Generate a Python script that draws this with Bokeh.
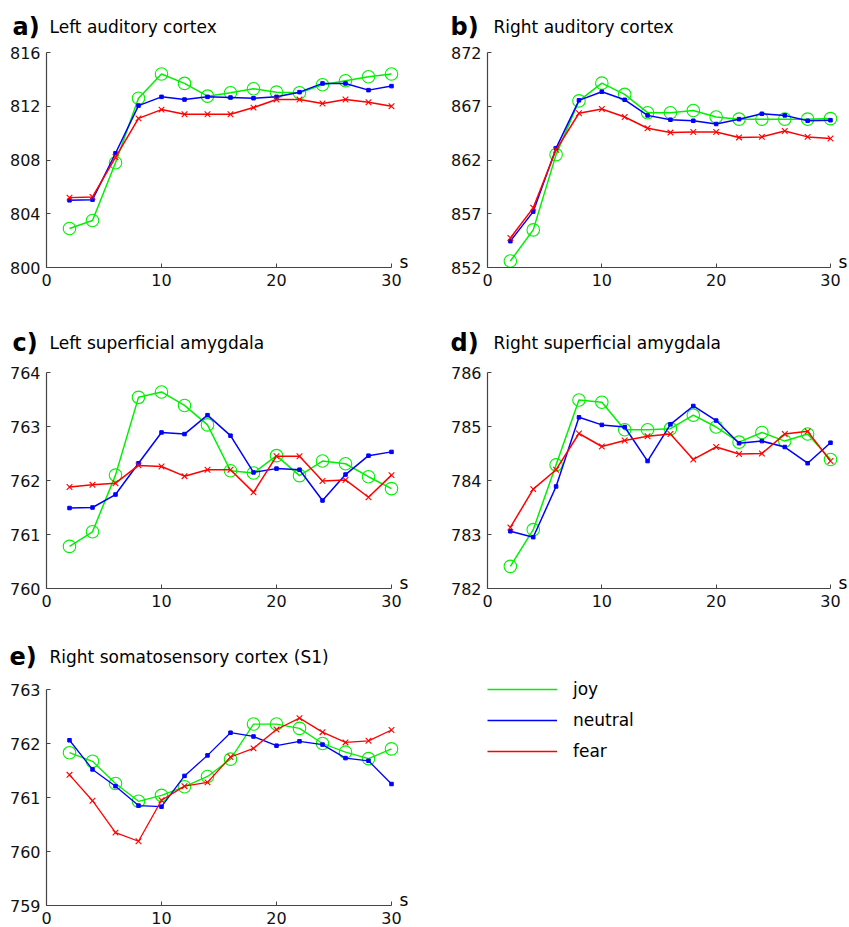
from bokeh.plotting import figure
from bokeh.layouts import column, row
from bokeh.models import Range1d, FixedTicker, Label, Legend, LegendItem
from bokeh.embed import file_html
from bokeh.resources import INLINE

# ---------------- data ----------------
time_s = [2, 4, 6, 8, 10, 12, 14, 16, 18, 20, 22, 24, 26, 28, 30]
x_ticks = [0, 10, 20, 30]
series_names = ["joy", "neutral", "fear"]

a_title = "Left auditory cortex"
a_yticks = [800, 804, 808, 812, 816]
a_joy = [802.9, 803.5, 807.8, 812.6, 814.4, 813.7, 812.75, 813.0, 813.3, 813.05, 813.0, 813.6, 813.9, 814.2, 814.4]
a_neutral = [805.0, 805.05, 808.5, 812.05, 812.7, 812.5, 812.7, 812.65, 812.6, 812.7, 813.05, 813.7, 813.7, 813.2, 813.5]
a_fear = [805.2, 805.25, 808.2, 811.1, 811.75, 811.4, 811.4, 811.4, 811.9, 812.5, 812.5, 812.2, 812.5, 812.3, 812.0]

b_title = "Right auditory cortex"
b_yticks = [852, 857, 862, 867, 872]
b_joy = [852.6, 855.5, 862.5, 867.5, 869.15, 868.1, 866.4, 866.4, 866.6, 866.0, 865.8, 865.8, 865.8, 865.8, 865.85]
b_neutral = [854.45, 857.2, 863.1, 867.55, 868.35, 867.6, 866.15, 865.75, 865.65, 865.35, 865.8, 866.3, 866.15, 865.65, 865.7]
b_fear = [854.75, 857.55, 862.95, 866.35, 866.75, 866.0, 864.95, 864.55, 864.6, 864.6, 864.1, 864.15, 864.7, 864.15, 864.0]

c_title = "Left superficial amygdala"
c_yticks = [760, 761, 762, 763, 764]
c_joy = [760.78, 761.05, 762.1, 763.54, 763.64, 763.39, 763.03, 762.18, 762.14, 762.46, 762.09, 762.36, 762.31, 762.07, 761.85]
c_neutral = [761.49, 761.5, 761.74, 762.32, 762.89, 762.86, 763.21, 762.83, 762.15, 762.22, 762.2, 761.63, 762.11, 762.46, 762.53]
c_fear = [761.88, 761.92, 761.95, 762.28, 762.26, 762.08, 762.2, 762.2, 761.78, 762.45, 762.45, 761.99, 762.01, 761.69, 762.1]

d_title = "Right superficial amygdala"
d_yticks = [782, 783, 784, 785, 786]
d_joy = [782.41, 783.09, 784.29, 785.49, 785.45, 784.94, 784.94, 784.96, 785.21, 784.99, 784.71, 784.89, 784.73, 784.86, 784.39]
d_neutral = [783.06, 782.95, 783.89, 785.17, 785.03, 784.99, 784.36, 785.04, 785.38, 785.11, 784.69, 784.73, 784.62, 784.32, 784.7]
d_fear = [783.13, 783.84, 784.2, 784.87, 784.63, 784.74, 784.82, 784.86, 784.39, 784.62, 784.49, 784.5, 784.86, 784.91, 784.36]

e_title = "Right somatosensory cortex (S1)"
e_yticks = [759, 760, 761, 762, 763]
e_joy = [761.83, 761.67, 761.26, 760.93, 761.04, 761.2, 761.39, 761.71, 762.36, 762.36, 762.28, 762.0, 761.84, 761.72, 761.9]
e_neutral = [762.06, 761.52, 761.21, 760.85, 760.83, 761.4, 761.78, 762.2, 762.13, 761.96, 762.04, 761.98, 761.73, 761.68, 761.25]
e_fear = [761.42, 760.94, 760.35, 760.19, 760.95, 761.21, 761.28, 761.75, 761.91, 762.26, 762.47, 762.21, 762.02, 762.05, 762.25]

# ---------------- style ----------------
FONT = "DejaVu Sans"
GREEN, BLUE, RED = "#00f000", "#0000ff", "#ff0000"
AXIS_COLOR = "#444444"
BASELINE_FIX = 8  # empirical shift of alphabetic baseline for screen labels


def make_panel(letter, title, joy, neutral, fear, yticks,
               W, H, bl, bt, fw, fh, letter_dx, title_dx, title_up,
               s_dx=8, lw=1.5):
    """Frame covers the whole canvas; axes are drawn at fixed locations so
    that in-canvas annotations (titles, legend) are never clipped."""
    xlo, xhi = x_ticks[0], x_ticks[-1]
    ylo, yhi = yticks[0], yticks[-1]
    sx = fw / (xhi - xlo)
    sy = fh / (yhi - ylo)
    x0 = xlo - bl / sx
    x1 = x0 + W / sx
    y1 = yhi + bt / sy
    y0 = y1 - H / sy
    p = figure(width=W, height=H, output_backend="svg", toolbar_location=None,
               x_range=Range1d(x0, x1), y_range=Range1d(y0, y1),
               min_border=0, min_border_left=0, min_border_right=0,
               min_border_top=0, min_border_bottom=0)
    p.outline_line_color = None
    p.xgrid.visible = False
    p.ygrid.visible = False
    p.background_fill_color = "white"
    p.border_fill_color = "white"

    for ax in p.axis:
        ax.axis_line_color = AXIS_COLOR
        ax.axis_line_width = 1.2
        ax.major_tick_line_color = AXIS_COLOR
        ax.major_tick_in = 4
        ax.major_tick_out = 0
        ax.minor_tick_line_color = None
        ax.major_label_text_font = FONT
        ax.major_label_text_font_size = "16px"
        ax.major_label_text_color = "#111111"
        ax.major_label_standoff = 6
    p.xaxis.ticker = FixedTicker(ticks=x_ticks)
    p.xaxis.bounds = (xlo, xhi)
    p.xaxis.fixed_location = ylo
    p.yaxis.ticker = FixedTicker(ticks=yticks)
    p.yaxis.bounds = (ylo, yhi)
    p.yaxis.fixed_location = xlo

    r_joy = p.line(time_s, joy, line_color=GREEN, line_width=lw)
    p.scatter(time_s, joy, marker="circle", size=12.5, fill_color=None,
              line_color=GREEN, line_width=1.1)
    r_neu = p.line(time_s, neutral, line_color=BLUE, line_width=lw)
    p.scatter(time_s, neutral, marker="square", size=3.5, fill_color=BLUE,
              line_color=BLUE)
    r_fear = p.line(time_s, fear, line_color=RED, line_width=lw)
    p.scatter(time_s, fear, marker="x", size=8, line_color=RED, line_width=1.1)

    base_y = H - bt + title_up + BASELINE_FIX
    p.add_layout(Label(x=bl + letter_dx, y=base_y, x_units="screen", y_units="screen",
                       text=letter + ")", text_font=FONT, text_font_style="bold",
                       text_font_size="24px", text_baseline="alphabetic",
                       text_color="black"))
    p.add_layout(Label(x=bl + title_dx, y=base_y, x_units="screen", y_units="screen",
                       text=title, text_font=FONT, text_font_size="17px",
                       text_baseline="alphabetic", text_color="black"))
    p.add_layout(Label(x=xhi, y=ylo, x_offset=s_dx, y_offset=6,
                       text="s", text_font=FONT, text_font_size="17px",
                       text_baseline="alphabetic", text_color="black"))
    return p, (r_joy, r_neu, r_fear)


pa, _ = make_panel("a", a_title, a_joy, a_neutral, a_fear, a_yticks,
                   W=420, H=320, bl=46, bt=52, fw=345, fh=215,
                   letter_dx=-34, title_dx=3, title_up=18)
pb, _ = make_panel("b", b_title, b_joy, b_neutral, b_fear, b_yticks,
                   W=429, H=320, bl=67, bt=52, fw=343, fh=215,
                   letter_dx=-37, title_dx=6, title_up=18)
pc, _ = make_panel("c", c_title, c_joy, c_neutral, c_fear, c_yticks,
                   W=420, H=310, bl=46, bt=52, fw=345, fh=216,
                   letter_dx=-34, title_dx=3, title_up=22)
pd, _ = make_panel("d", d_title, d_joy, d_neutral, d_fear, d_yticks,
                   W=429, H=310, bl=67, bt=52, fw=343, fh=216,
                   letter_dx=-37, title_dx=6, title_up=22)
pe, (ej, en, ef) = make_panel("e", e_title, e_joy, e_neutral, e_fear, e_yticks,
                              W=849, H=297, bl=46, bt=59, fw=345, fh=216,
                              letter_dx=-37, title_dx=3, title_up=25, lw=1.3)

# legend: location is the bottom-left corner, measured from the canvas bottom-left
legend = Legend(items=[LegendItem(label=series_names[0], renderers=[ej]),
                       LegendItem(label=series_names[1], renderers=[en]),
                       LegendItem(label=series_names[2], renderers=[ef])],
                location=(487, 166), orientation="vertical",
                glyph_width=70, glyph_height=20, label_height=20,
                spacing=11, label_standoff=16, padding=0, margin=0,
                border_line_alpha=0, background_fill_alpha=0,
                label_text_font=FONT, label_text_font_size="17px",
                label_text_color="black")
pe.add_layout(legend)

layout = column(row(pa, pb), row(pc, pd), row(pe))

with open("out.html", "w") as f:
    f.write(file_html(layout, INLINE))
